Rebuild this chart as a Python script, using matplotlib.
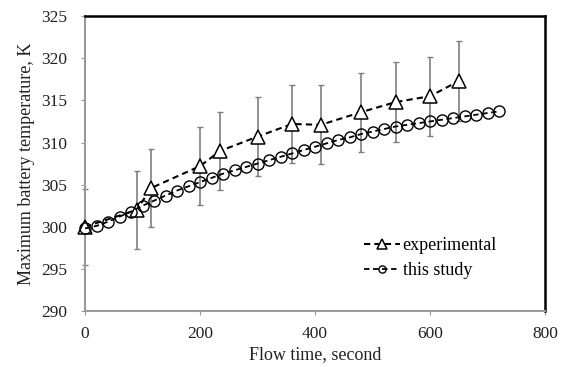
import matplotlib
matplotlib.use("Agg")
import matplotlib.pyplot as plt

plt.rcParams['font.family'] = ['Liberation Serif', 'DejaVu Serif']

exp_t = [0, 90, 115, 200, 235, 300, 360, 410, 480, 540, 600, 650]
exp_T = [300.0, 302.0, 304.6, 307.2, 309.0, 310.7, 312.2, 312.1, 313.6, 314.8, 315.5, 317.3]
exp_err = [4.5, 4.6, 4.6, 4.6, 4.6, 4.7, 4.6, 4.7, 4.7, 4.7, 4.7, 4.8]

sim_t = [0, 20, 40, 60, 80, 100, 120, 140, 160, 180, 200, 220, 240, 260, 280, 300,
         320, 340, 360, 380, 400, 420, 440, 460, 480, 500, 520, 540, 560, 580, 600,
         620, 640, 660, 680, 700, 720]
sim_T = [299.8, 300.1, 300.6, 301.2, 301.8, 302.5, 303.1, 303.7, 304.3, 304.8, 305.3,
         305.8, 306.3, 306.7, 307.1, 307.5, 307.9, 308.3, 308.7, 309.1, 309.5, 309.9,
         310.3, 310.6, 311.0, 311.3, 311.6, 311.9, 312.1, 312.3, 312.5, 312.7, 312.9,
         313.1, 313.3, 313.5, 313.7]

x_ticks = [0, 200, 400, 600, 800]
y_ticks = [290, 295, 300, 305, 310, 315, 320, 325]

fig = plt.figure(figsize=(5.72, 3.67), dpi=100)
ax = fig.add_axes([0.1486, 0.1526, 0.8044, 0.8034])

ax.errorbar(exp_t, exp_T, yerr=exp_err, fmt='none', ecolor='#7f7f7f',
            elinewidth=1.2, capsize=2.5, capthick=1.0, zorder=1, clip_on=False)
ax.plot(exp_t, exp_T, linestyle=(0, (3, 2)), color='black', lw=1.5,
        marker='^', markersize=10, markerfacecolor='white', markeredgecolor='black',
        markeredgewidth=1.1, label='experimental', zorder=3, clip_on=False)
ax.plot(sim_t, sim_T, linestyle=(0, (3, 2)), color='black', lw=1.3,
        marker='o', markersize=8, markerfacecolor='none', markeredgecolor='black',
        markeredgewidth=1.0, label='this study', zorder=4, clip_on=False)

ax.set_xlim(0, 800)
ax.set_ylim(290, 325)
ax.set_xticks(x_ticks)
ax.set_yticks(y_ticks)
ax.tick_params(axis='both', direction='out', length=3, width=0.8, colors='#999999',
               labelcolor='#222222', labelsize=12.5)
ax.tick_params(axis='x', pad=8)
ax.tick_params(axis='y', pad=10)

for s in ['top', 'right']:
    ax.spines[s].set_color('black')
    ax.spines[s].set_linewidth(1.8)
for s in ['left', 'bottom']:
    ax.spines[s].set_color('#999999')
    ax.spines[s].set_linewidth(1.5)

ax.set_xlabel('Flow time, second', fontsize=13, color='#222222', labelpad=3)
ax.set_ylabel('Maximum battery temperature, K', fontsize=13, color='#222222', labelpad=4)

leg = ax.legend(loc='upper left', bbox_to_anchor=(0.59, 0.275), frameon=False,
                fontsize=13, handlelength=2.0, handletextpad=0.15, labelspacing=0.45,
                borderaxespad=0, markerscale=0.65)

fig.savefig('out.png', dpi=100)
